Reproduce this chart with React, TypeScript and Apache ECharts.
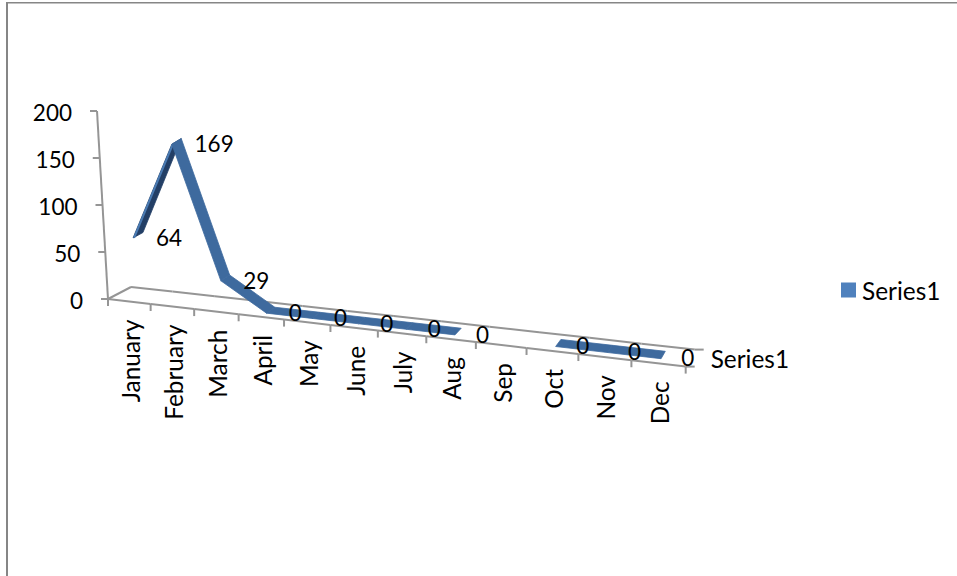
import React, { useEffect, useRef } from "react";
import * as echarts from "echarts";

const categories = ["January", "February", "March", "April", "May", "June", "July", "Aug", "Sep", "Oct", "Nov", "Dec"];
const seriesValues: (number | null)[] = [64, 169, 29, 0, 0, 0, 0, 0, null, 0, 0, 0];
const valueTicks = [0, 50, 100, 150, 200];
const seriesName = "Series1";

const FONT = "Lato";
const DIGIT_SIZE = 22.5;
const WORD_SIZE = 24.4;
const AXIS = "#959595";
const FILL = "#4F81BD";

const GRID = { left: 108, top: 111, width: 578, height: 188 };

// Oblique perspective of the flat grid plane onto the sloping 3D floor.
function warp(px: number, py: number, depth: number, slant: number): number[] {
  const u = (px - GRID.left) / GRID.width;
  const h = GRID.top + GRID.height - py;
  const run = (506.4 * u) / (1 - 0.1234 * u);
  const fx = GRID.left + run;
  const fy = GRID.top + GRID.height + 0.117 * run;
  const dx = 23 - 14 * u;
  const dy = -12 - 5 * u;
  return [fx + dx * depth - h * slant, fy + dy * depth - h];
}

const AXIS_SLANT = 0.0585;
const SERIES_SLANT = 0.04;
const D0 = 0.28;
const D1 = 0.72;

const line = (a: number[], b: number[]) => ({
  type: "line",
  shape: { x1: a[0], y1: a[1], x2: b[0], y2: b[1] },
  style: { stroke: AXIS, lineWidth: 2 },
});

const label = (text: string, x: number, y: number, align: string, size: number, rotation = 0) => ({
  type: "text",
  x,
  y,
  rotation,
  style: { text, x: 0, y: 0, fontFamily: FONT, fontSize: size, fill: "#000", align, verticalAlign: "middle" },
});

export default function App() {
  const ref = useRef<HTMLDivElement>(null);
  useEffect(() => {
    document.body.style.margin = "0";
    const chart = echarts.init(ref.current!, undefined, { renderer: "svg" });
    const segments: number[][] = [];
    seriesValues.forEach((v, i) => {
      const n = seriesValues[i + 1];
      if (v !== null && n !== null && n !== undefined) segments.push([i + 0.5, v, i + 1.5, n]);
    });
    const pointLabels = seriesValues
      .map((v, i) => (v === null ? null : [i + 0.5, v]))
      .filter(Boolean) as number[][];

    const base = { type: "custom", coordinateSystem: "cartesian2d", clip: false, silent: true };
    chart.setOption({
      animation: false,
      backgroundColor: "#fff",
      grid: { ...GRID, containLabel: false },
      xAxis: { type: "value", min: 0, max: categories.length, interval: 1, show: false },
      yAxis: { type: "value", min: 0, max: 200, interval: 50, show: false },
      legend: {
        data: [seriesName],
        left: 841,
        top: 278,
        padding: 0,
        icon: "rect",
        itemWidth: 15,
        itemHeight: 15,
        itemGap: 0,
        textStyle: { fontFamily: FONT, fontSize: WORD_SIZE, color: "#000", padding: [0, 0, 0, 1] },
      },
      graphic: [
        { type: "line", shape: { x1: 7, y1: 3, x2: 7, y2: 576 }, style: { stroke: "#868686", lineWidth: 2 } },
        { type: "line", shape: { x1: 6, y1: 2.75, x2: 957, y2: 2.75 }, style: { stroke: "#868686", lineWidth: 1.5 } },
      ],
      series: [
        {
          ...base,
          name: "valueAxis",
          z: 1,
          data: valueTicks.map((v) => [0, v]),
          renderItem: (_: any, api: any) => {
            const v = api.value(1);
            const c = api.coord([0, v]);
            const p = warp(c[0], c[1], 0, AXIS_SLANT);
            const children: any[] = [line([p[0] - 7, p[1]], p), label(String(v), p[0] - 25, p[1] + 1, "right", DIGIT_SIZE)];
            if (v > 0) {
              const step = api.coord([0, v - 50]);
              children.push(line(p, warp(step[0], step[1], 0, AXIS_SLANT)));
            }
            return { type: "group", children };
          },
        },
        {
          ...base,
          name: "categoryAxis",
          z: 1,
          data: categories.map((_, i) => [i, 0]),
          renderItem: (params: any, api: any) => {
            const i = params.dataIndex;
            const c0 = api.coord([i, 0]);
            const c1 = api.coord([i + 1, 0]);
            const mid = api.coord([i + 0.5, 0]);
            const a = warp(c0[0], c0[1], 0, AXIS_SLANT);
            const b = warp(c1[0], c1[1], 0, AXIS_SLANT);
            const ba = warp(c0[0], c0[1], 1, AXIS_SLANT);
            const bb = warp(c1[0], c1[1], 1, AXIS_SLANT);
            const m = warp(mid[0], mid[1], 0, AXIS_SLANT);
            const children: any[] = [
              line(a, b),
              line(ba, bb),
              line([b[0], b[1]], [b[0], b[1] + 7]),
              label(categories[i], m[0] + 1, m[1] + 18, "right", WORD_SIZE, Math.PI / 2),
            ];
            if (i === 0) {
              children.push(line(a, ba), line(a, [a[0], a[1] + 7]));
            }
            if (i === categories.length - 1) {
              children.push(line(b, [b[0] + 9, b[1]]), line(bb, [bb[0] + 9, bb[1]]));
              children.push(label(seriesName, b[0] + 25, b[1] - 8, "left", WORD_SIZE));
            }
            return { type: "group", children };
          },
        },
        {
          ...base,
          name: seriesName,
          z: 2,
          itemStyle: { color: FILL },
          data: segments,
          renderItem: (_: any, api: any) => {
            const t0 = api.value(0);
            const v0 = api.value(1);
            const t1 = api.value(2);
            const v1 = api.value(3);
            const c0 = api.coord([t0, v0]);
            const c1 = api.coord([t1, v1]);
            const f0 = warp(c0[0], c0[1], D0, SERIES_SLANT);
            const b0 = warp(c0[0], c0[1], D1, SERIES_SLANT);
            const f1 = warp(c1[0], c1[1], D0, SERIES_SLANT);
            const b1 = warp(c1[0], c1[1], D1, SERIES_SLANT);
            const rising = v1 > v0;
            const color = rising ? "#233F66" : "#3E6A9E";
            const children: any[] = [
              {
                type: "polygon",
                shape: { points: [f0, b0, b1, f1] },
                style: { fill: color, stroke: color, lineWidth: 0.8 },
              },
            ];
            if (rising) {
              children.push({
                type: "line",
                shape: { x1: f0[0] + 1, y1: f0[1], x2: f1[0] + 1, y2: f1[1] },
                style: { stroke: "#4A7BB3", lineWidth: 2 },
              });
            }
            return { type: "group", children };
          },
        },
        {
          ...base,
          name: "dataLabels",
          z: 3,
          data: pointLabels,
          renderItem: (_: any, api: any) => {
            const c = api.coord([api.value(0), api.value(1)]);
            const p = warp(c[0], c[1], 0.5, SERIES_SLANT);
            return label(String(api.value(1)), p[0] + 18, p[1] + 2.5, "left", DIGIT_SIZE);
          },
        },
      ],
    });
    return () => chart.dispose();
  }, []);
  return <div ref={ref} style={{ position: "absolute", left: 0, top: 0, width: 957, height: 576 }} />;
}
